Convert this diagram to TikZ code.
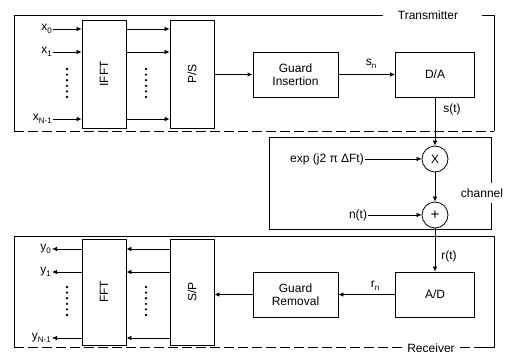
\documentclass[tikz,border=0pt]{standalone}
\usepackage{fontspec}
\setmainfont{Liberation Sans}
\usetikzlibrary{arrows.meta}
\newcommand\lsub[1]{\raisebox{-0.45ex}{\fontsize{8}{8}\selectfont #1}}
\begin{document}
\begin{tikzpicture}[x=1pt,y=-1pt, font=\fontsize{12}{13}\selectfont,
  blk/.style={draw, line width=0.8pt, inner sep=0pt},
  tall/.style={blk, minimum width=44pt, minimum height=108pt},
  tallr/.style={blk, minimum width=44pt, minimum height=106pt},
  wide/.style={blk, minimum width=85pt, minimum height=45pt, align=center},
  conv/.style={blk, minimum width=79pt, minimum height=45pt},
  op/.style={draw, circle, line width=0.8pt, minimum size=26pt, inner sep=0pt},
  arr/.style={line width=0.7pt, -{Latex[length=5pt,width=4.5pt]}},
  frame/.style={line width=0.8pt},
  dframe/.style={line width=0.8pt, dash pattern=on 10pt off 4pt},
  lbl/.style={inner sep=1pt},
  dot/.style={fill=black}]
\useasboundingbox (0,0) rectangle (514,356);

% ---------------- Transmitter ----------------
\draw[frame] (383,15) -- (14,15) -- (14,131);
\draw[frame] (482,15) -- (494,15) -- (494,131);
\draw[dframe] (14,131) -- (494,131);
\node[lbl] (txl) at (428,15) {Transmitter};

\node[tall] (ifft) at (104,74) {};
\node[rotate=90] (iffttxt) at (ifft) {IFFT};
\node[tall] (ps) at (192,74) {};
\node[rotate=90] (pstxt) at (ps) {P/S};

\coordinate (a0) at (53,29);
\coordinate (a1) at (53,52);
\coordinate (an) at (53,119);
\node[lbl, anchor=east] (x0) at (a0) {x\lsub{0}};
\node[lbl, anchor=east] (x1) at (a1) {x\lsub{1}};
\node[lbl, anchor=east] (xn) at (an) {x\lsub{N-1}};
\foreach \c in {a0,a1,an} {
  \draw[arr] (\c) -- (ifft.west |- \c);
  \draw[arr] (ifft.east |- \c) -- (ps.west |- \c);
}
\foreach \k in {0,...,5} {
  \fill[dot] (67,{69+\k*5.6}) circle (1.3pt);
  \fill[dot] (146,{69+\k*5.6}) circle (1.3pt);
}

\node[wide] (gi) at (295.5,74.5) {Guard\\Insertion};
\node[conv] (da) at (435,74.5) {D/A};
\draw[arr, line width=1.3pt] (ps.east |- gi) -- (gi.west);
\draw[arr] (gi.east) -- (da.west);
\node[lbl] (sn) at (371,64) {s\lsub{n}};

% ---------------- Channel ----------------
\draw[frame] (491,183) -- (491,137) -- (269,137) -- (269,229) -- (491,229) -- (491,203);
\node[lbl] (chl) at (482,193) {channel};

\node[op] (mul) at (435,159) {X};
\node[op] (add) at (435,215) {\fontsize{15}{15}\selectfont +};
\draw[arr] (da.south) -- (mul.north);
\node[lbl] (st) at (452,109) {s(t)};
\node[lbl] (expl) at (327,159) {exp (j2 π ΔFt)};
\draw[arr] (expl.east) -- (mul.west);
\node[lbl] (nt) at (358,215) {n(t)};
\draw[arr] (nt.east) -- (add.west);
\draw[arr] (mul.south) -- (add.north);

% ---------------- Receiver ----------------
\draw[frame] (14,347) -- (14,236) -- (494,236) -- (494,347) -- (482,347);
\draw[dframe] (14,347) -- (402,347);
\draw[dframe] (460,347) -- (482,347);
\node[lbl] (rxl) at (431,348) {Receiver};

\node[conv] (ad) at (435,294.5) {A/D};
\node[wide] (gr) at (295.5,294.5) {Guard\\Removal};
\draw[arr] (add.south) -- (ad.north);
\node[lbl] (rt) at (449,256) {r(t)};
\draw[arr] (ad.west) -- (gr.east);
\node[lbl] (rn) at (375,286) {r\lsub{n}};

\node[tallr] (fft) at (104,292) {};
\node[rotate=90] (ffttxt) at (fft) {FFT};
\node[tallr] (sp) at (192,292) {};
\node[rotate=90] (sptxt) at (sp) {S/P};
\draw[arr] (gr.west) -- (sp.east |- gr.west);

\coordinate (b0) at (52,249);
\coordinate (b1) at (52,272);
\coordinate (bn) at (52,338);
\node[lbl, anchor=east] (y0) at (b0) {y\lsub{0}};
\node[lbl, anchor=east] (y1) at (b1) {y\lsub{1}};
\node[lbl, anchor=east] (yn) at (bn) {y\lsub{N-1}};
\foreach \c in {b0,b1,bn} {
  \draw[arr] (fft.west |- \c) -- (\c);
  \draw[arr] (sp.west |- \c) -- (fft.east |- \c);
}
\foreach \k in {0,...,5} {
  \fill[dot] (67,{287+\k*5.6}) circle (1.3pt);
  \fill[dot] (146,{287+\k*5.6}) circle (1.3pt);
}
\end{tikzpicture}
\end{document}
